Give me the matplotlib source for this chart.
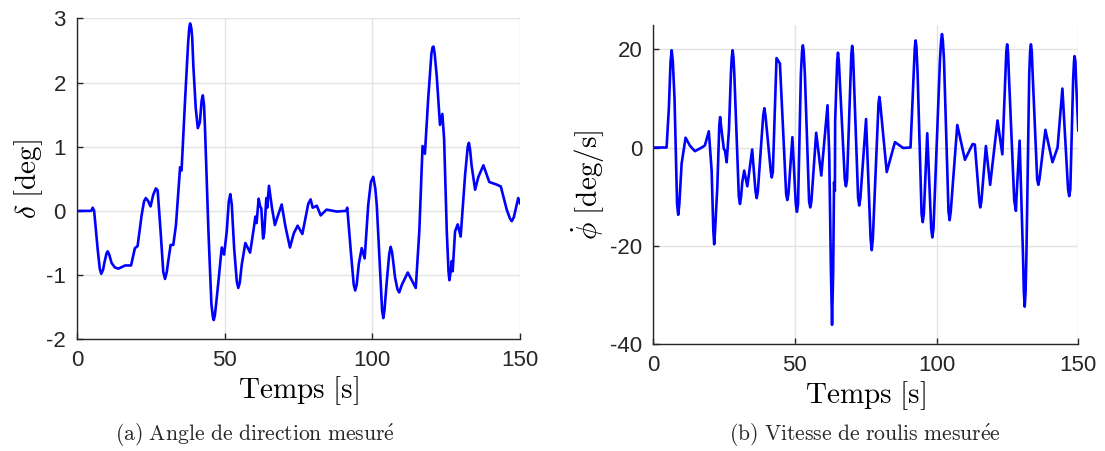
import numpy as np
import matplotlib
matplotlib.use("Agg")
import matplotlib.pyplot as plt

# ---------------------------------------------------------------------------
# Donnees
# ---------------------------------------------------------------------------
t_delta = [0, 4.8, 5.3, 5.8, 7.0, 7.7, 8.2, 8.8, 9.3, 10.0, 10.4, 10.9, 11.7,
           12.8, 14.0, 16.3, 18.3, 19.6, 20.5, 21.9, 22.7, 23.3, 24.0, 24.9,
           25.8, 26.7, 27.3, 28.3, 29.2, 29.8, 30.4, 30.9, 31.7, 32.6, 33.5,
           34.9, 35.4, 36.6, 37.6, 38.0, 38.3, 38.7, 39.0, 39.4, 40.2, 40.9,
           41.6, 42.2, 42.6, 43.0, 43.3, 44.5, 45.5, 46.0, 46.3, 46.7, 47.1,
           47.9, 49.0, 49.8, 50.7, 51.4, 51.9, 52.4, 53.2, 54.1, 54.6, 55.1,
           55.8, 57.0, 58.6, 59.7, 60.4, 60.8, 61.5, 62.0, 62.4, 63.0, 63.4,
           64.1, 64.4, 65.0, 66.0, 67.0, 68.2, 69.3, 70.6, 72.1, 73.4, 74.7,
           76.3, 78.3, 79.1, 79.8, 81.2, 82.5, 84.5, 87.9, 91.1, 91.5, 92.8,
           93.7, 94.2, 94.7, 95.4, 96.4, 97.4, 98.6, 99.5, 100.3, 101.0, 101.5,
           102.7, 103.3, 103.7, 104.1, 104.9, 105.7, 106.2, 106.7, 107.7,
           108.5, 109.1, 110.0, 112.0, 114.7, 115.9, 117.0, 117.8, 118.9,
           120.0, 120.4, 120.7, 121.1, 121.8, 122.9, 123.7, 124.3, 125.2,
           125.8, 126.1, 126.5, 126.9, 127.2, 128.0, 128.9, 129.9, 131.4,
           132.3, 132.7, 133.1, 133.6, 134.8, 135.9, 137.6, 139.6, 142.1,
           143.5, 145.5, 146.6, 147.2, 147.9, 149.4, 150]
delta = [0, 0, 0.05, 0.0, -0.6, -0.9, -0.98, -0.92, -0.8, -0.66, -0.63, -0.68,
         -0.81, -0.88, -0.90, -0.85, -0.85, -0.58, -0.55, -0.06, 0.15, 0.2,
         0.16, 0.07, 0.25, 0.35, 0.32, -0.32, -0.95, -1.06, -0.95, -0.78,
         -0.53, -0.53, -0.22, 0.68, 0.63, 1.74, 2.6, 2.85, 2.92, 2.85, 2.7,
         2.25, 1.6, 1.29, 1.38, 1.72, 1.80, 1.65, 1.33, -0.32, -1.45, -1.65,
         -1.70, -1.62, -1.45, -1.09, -0.57, -0.68, -0.32, 0.15, 0.26, 0.1,
         -0.58, -1.1, -1.20, -1.12, -0.83, -0.50, -0.65, -0.32, -0.09, -0.19,
         0.19, 0.07, 0.04, -0.43, -0.34, 0.2, 0.05, 0.39, 0.05, -0.22, -0.05,
         0.10, -0.25, -0.57, -0.35, -0.23, -0.36, 0.11, 0.18, 0.05, 0.08,
         -0.07, 0.02, -0.01, 0, 0.05, -0.68, -1.15, -1.24, -1.15, -0.83,
         -0.58, -0.74, 0.09, 0.45, 0.53, 0.35, 0.09, -1.0, -1.55, -1.67, -1.55,
         -1.09, -0.68, -0.56, -0.65, -1.04, -1.22, -1.27, -1.15, -0.96, -1.20,
         -0.32, 1.01, 0.89, 1.74, 2.45, 2.55, 2.56, 2.45, 2.10, 1.34, 1.51,
         1.12, -0.32, -0.95, -1.08, -0.95, -0.78, -0.94, -0.32, -0.21, -0.40,
         0.56, 1.0, 1.06, 0.95, 0.71, 0.33, 0.53, 0.71, 0.45, 0.41, 0.38,
         0.02, -0.12, -0.16, -0.1, 0.20, 0.12]

t_phidot = [0, 4.7, 5.5, 6.1, 6.5, 6.9, 7.5, 8.4, 8.8, 9.2, 10.0, 11.4, 12.9,
            14.7, 17.1, 18.2, 19.6, 20.6, 21.2, 21.5, 21.8, 22.6, 23.3, 23.6,
            23.9, 24.9, 25.3, 25.9, 26.7, 27.4, 27.7, 28.0, 28.3, 28.6, 29.2,
            30.2, 30.6, 31.0, 31.4, 32.1, 33.2, 34.9, 36.1, 36.5, 36.9, 38.8,
            39.2, 39.6, 41.5, 41.8, 42.2, 43.5, 44.7, 46.9, 47.3, 47.7, 49.1,
            50.3, 50.7, 51.1, 52.1, 52.5, 52.8, 53.1, 53.5, 55.0, 55.4, 55.8,
            57.5, 59.3, 61.5, 62.1, 62.7, 63.1, 63.5, 63.8, 64.1, 64.2, 64.9,
            65.2, 65.5, 67.6, 68.0, 68.4, 69.9, 70.2, 70.5, 72.3, 72.7, 73.1,
            75.1, 76.7, 77.1, 77.5, 79.5, 79.8, 80.1, 82.4, 85.3, 88.2, 90.8,
            91.9, 92.3, 92.6, 92.9, 93.3, 94.7, 95.1, 95.5, 96.7, 98.1, 98.5,
            98.9, 101.2, 101.6, 101.9, 102.2, 102.6, 104.2, 104.6, 105.0,
            107.3, 110.0, 112.7, 113.5, 115.1, 115.4, 115.8, 117.4, 118.9,
            121.5, 123.2, 124.3, 124.6, 124.9, 125.2, 125.5, 127.4, 128.0,
            128.2, 129.3, 130.5, 130.8, 131.1, 131.4, 131.7, 132.7, 133.0,
            133.3, 133.6, 133.9, 135.5, 135.9, 136.3, 138.4, 140.9, 142.7,
            144.4, 146.4, 146.8, 147.2, 148.2, 148.5, 148.7, 149.0, 149.2, 150]
phidot = [0, 0, 8, 17.5, 19.8, 17.5, 10, -11.5, -13.7, -11.5, -3.3, 2.0, 0.4,
          -0.75, 0, 0.4, 3.3, -4.7, -17, -19.7, -17, -8.1, 4.5, 6.2, 4.5, -0.3,
          -0.6, -3.0, 3.5, 15, 18.3, 19.8, 18.3, 15, 5.5, -10, -11.5, -10,
          -7.1, -4.7, -7.9, -0.4, -9, -10.3, -9, 6.5, 8.0, 6.5, -5, -6.1, -5,
          18.2, 17.1, -9.5, -10.7, -9.5, 2.1, -11.5, -13.1, -11.5, 15, 19.5,
          20.8, 19.5, 15, -11, -12.2, -11, 3.0, -5.7, 8.6, -1.3, -25, -36.1,
          -25, -7.1, -8.8, 5.5, 17.5, 19.3, 17.5, -6.5, -7.9, -6.5, 19, 20.7,
          19, -10.3, -11.8, -10.3, 5.8, -18.5, -20.9, -18.5, 9, 10.3, 9, -5.0,
          1.1, -0.1, 0, 15, 20.3, 21.8, 20.3, 15, -13.5, -15.2, -13.5, 2.9,
          -16.5, -18.3, -16.5, 18, 21.8, 23.1, 21.8, 18, -13, -14.8, -13, 4.6,
          -2.5, 0.7, 0.6, -11, -12.2, -11, 0.3, -7.6, 5.5, -1.4, 15, 19.5,
          21.0, 19.5, 15, -10.8, -12.9, -10.1, 1.4, -22, -29.5, -32.4, -29.5,
          -22, 15, 19.5, 21.0, 19.5, 15, -6.5, -7.6, -6.5, 3.6, -3.0, 0, 12.0,
          -8.5, -9.9, -8.5, 14, 17.5, 18.6, 17.5, 14, 3.5]

# ---------------------------------------------------------------------------
# Style
# ---------------------------------------------------------------------------
matplotlib.rcParams.update({
    "mathtext.fontset": "cm",
    "font.family": "Liberation Sans",
    "axes.unicode_minus": False,
})

BLUE = (0, 0, 1)
GRID = "#e3e3e3"
AXC = "#262626"

fig = plt.figure(figsize=(11.05, 4.51), dpi=100)
ax1 = fig.add_axes([0.0697, 0.2477, 0.4009, 0.7117])
ax2 = fig.add_axes([0.5912, 0.2373, 0.3846, 0.7079])


def style(ax):
    ax.grid(True, color=GRID, linewidth=1.0)
    ax.set_axisbelow(True)
    for s in ("top", "right"):
        ax.spines[s].set_visible(False)
    for s in ("left", "bottom"):
        ax.spines[s].set_color(AXC)
        ax.spines[s].set_linewidth(1.0)
    ax.tick_params(direction="in", length=4, width=1.0, colors=AXC,
                   labelsize=16, labelcolor=AXC, pad=8)


ax1.plot(t_delta, delta, color=BLUE, linewidth=1.9)
ax1.set_xlim(0, 150)
ax1.set_ylim(-2, 3)
ax1.set_xticks([0, 50, 100, 150])
ax1.set_yticks([-2, -1, 0, 1, 2, 3])
style(ax1)
ax1.set_xlabel(r"$\mathrm{Temps\ [s]}$", fontsize=21, labelpad=2)
ax1.set_ylabel(r"$\delta\ \mathrm{[deg]}$", fontsize=21, labelpad=1)

ax2.plot(t_phidot, phidot, color=BLUE, linewidth=1.9)
ax2.set_xlim(0, 150)
ax2.set_ylim(-40, 25)
ax2.set_xticks([0, 50, 100, 150])
ax2.set_yticks([-40, -20, 0, 20])
style(ax2)
ax2.set_xlabel(r"$\mathrm{Temps\ [s]}$", fontsize=21, labelpad=2)
ax2.set_ylabel(r"$\dot{\phi}\ \mathrm{[deg/s]}$", fontsize=21, labelpad=2)

fig.text(0.231, 0.006, r"$\mathrm{(a)\ Angle\ de\ direction\ mesur\acute{e}}$",
         ha="center", va="bottom", fontsize=15.6, color=AXC)
fig.text(0.783, 0.006, r"$\mathrm{(b)\ Vitesse\ de\ roulis\ mesur\acute{e}e}$",
         ha="center", va="bottom", fontsize=15.6, color=AXC)

fig.savefig("out.png", dpi=100)
